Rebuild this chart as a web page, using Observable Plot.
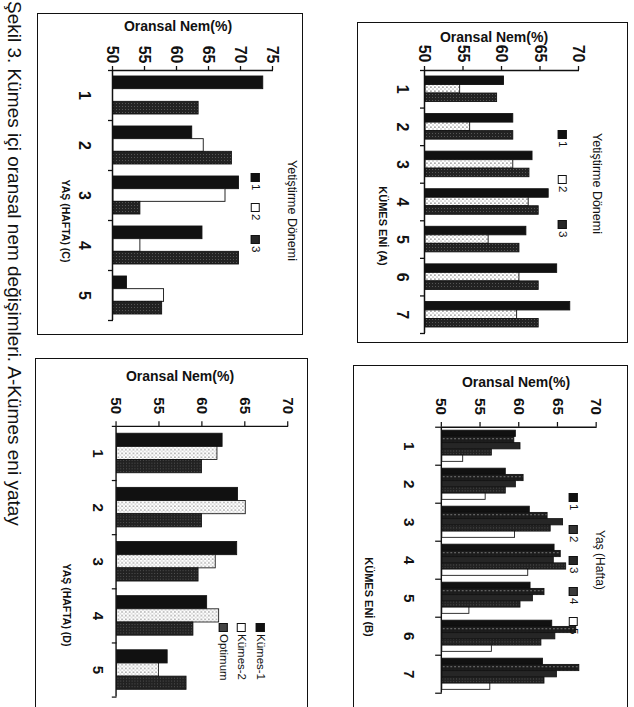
<!DOCTYPE html>
<html lang="tr">
<head>
<meta charset="utf-8">
<script src="https://cdn.jsdelivr.net/npm/d3@7"></script>
<script src="https://cdn.jsdelivr.net/npm/@observablehq/plot@0.6"></script>
<style>
  html, body { margin: 0; padding: 0; width: 634px; height: 707px; overflow: hidden; background: #fff; }
  /* The figure is laid out as a printed page (707 wide, 634 tall) and turned a quarter turn clockwise. */
  #page {
    position: absolute; left: 0; top: 0; width: 707px; height: 634px; overflow: hidden;
    transform-origin: 0 0; transform: translate(634px, 0) rotate(90deg);
    font-family: "Liberation Sans", Arial, Helvetica, sans-serif; color: #111; background: #fff;
  }
  .frame { position: absolute; border: 1.7px solid #111; box-sizing: border-box; }
  .chart { position: absolute; }
  .txt { position: absolute; white-space: nowrap; line-height: 1; }
  .item { position: absolute; white-space: nowrap; line-height: 1; font-size: 11.5px; display: flex; align-items: center; transform: translateY(-50%); }
  .sw { display: inline-block; width: 9px; height: 9px; border: 1.2px solid #111; box-sizing: border-box; margin-right: 2px; }
</style>
</head>
<body>
<svg width="0" height="0" style="position:absolute">
  <defs>
    <pattern id="speck" width="4" height="4" patternUnits="userSpaceOnUse">
      <rect width="4" height="4" fill="#fff"/>
      <rect x="0.5" y="0.5" width="1.3" height="1.1" fill="#555"/>
      <rect x="2.5" y="2.5" width="1.1" height="1" fill="#888"/>
    </pattern>
    <pattern id="darkdots" width="4" height="4" patternUnits="userSpaceOnUse">
      <rect width="4" height="4" fill="#1c1c1c"/>
      <rect x="1" y="1.5" width="1.2" height="1" fill="#bbb"/>
    </pattern>
    <pattern id="weave" width="3" height="3" patternUnits="userSpaceOnUse">
      <rect width="3" height="3" fill="#222"/>
      <rect x="0" y="0" width="1" height="1" fill="#555"/>
    </pattern>
  </defs>
</svg>
<div id="page"></div>
<script>
// ---- Data (relative humidity, %) ----
const nemTicks = [50, 55, 60, 65, 70];
const nemTicksC = [50, 55, 60, 65, 70, 75];

// A: along the house width, three rearing periods
const kumesEniA = [1, 2, 3, 4, 5, 6, 7];
const donemLabels = ["1", "2", "3"];
const nemA1 = [60.2, 61.4, 63.9, 66.0, 63.1, 67.1, 68.8];
const nemA2 = [54.5, 55.8, 61.4, 63.4, 58.2, 62.2, 61.9];
const nemA3 = [59.3, 61.4, 63.5, 64.7, 62.2, 64.7, 64.7];

// B: along the house width, by age (weeks)
const kumesEniB = [1, 2, 3, 4, 5, 6, 7];
const haftaLabels = ["1", "2", "3", "4", "5"];
const nemB1 = [59.5, 58.2, 61.3, 64.5, 61.4, 64.2, 63.0];
const nemB2 = [59.3, 60.5, 63.6, 65.3, 63.2, 67.3, 67.7];
const nemB3 = [60.1, 59.5, 65.6, 64.4, 61.7, 64.6, 64.8];
const nemB4 = [56.4, 58.2, 64.0, 66.0, 60.1, 62.8, 63.2];
const nemB5 = [52.7, 55.6, 59.4, 61.1, 53.5, 56.4, 56.2];

// C: by age (weeks), three rearing periods
const yasC = [1, 2, 3, 4, 5];
const nemC1 = [73.4, 62.3, 69.6, 63.9, 52.1];
const nemC2 = [null, 64.1, 67.5, 54.2, 57.9];
const nemC3 = [63.3, 68.5, 54.2, 69.6, 57.6];

// D: by age (weeks), two houses and the optimum
const yasD = [1, 2, 3, 4, 5];
const kumesLabels = ["Kümes-1", "Kümes-2", "Optimum"];
const nemD1 = [62.3, 64.1, 64.0, 60.5, 55.9];
const nemD2 = [61.7, 65.0, 61.5, 61.9, 54.9];
const nemD3 = [59.9, 59.9, 59.5, 58.9, 58.1];

// ---- Drawing ----
const FONT = '"Liberation Sans", Arial, Helvetica, sans-serif';
const INK = "#111";
const page = document.getElementById("page");

function groupedBars(o) {
  const n = o.series.length;
  const w = o.group / n;
  const lead = (1 - o.group) / 2;
  const base = o.yDomain[0];
  const bounds = d3.range(o.cats.length + 1).map(i => o.cats[0] - 0.5 + i);
  const bars = o.series.map((s, k) => {
    const rows = o.cats.map((c, i) => ({cat: c, value: s.values[i]})).filter(d => d.value != null);
    return Plot.rect(rows, {
      x1: d => d.cat - 0.5 + lead + k * w,
      x2: d => d.cat - 0.5 + lead + (k + 1) * w,
      y1: base,
      y2: "value",
      fill: s.fill,
      stroke: INK,
      strokeWidth: 0.9
    });
  });
  return Plot.plot({
    width: o.width, height: o.height,
    marginLeft: o.margin[0], marginRight: o.margin[1], marginTop: o.margin[2], marginBottom: o.margin[3],
    x: {domain: [bounds[0], bounds[bounds.length - 1]], axis: null},
    y: {domain: o.yDomain, axis: null},
    style: {fontFamily: FONT, fontSize: "16px", fontWeight: "bold", color: INK, background: "transparent", overflow: "visible"},
    marks: [
      ...bars,
      Plot.ruleY([base], {stroke: INK, strokeWidth: 1.5}),
      Plot.ruleX([bounds[0]], {stroke: INK, strokeWidth: 1.5}),
      Plot.axisY(o.yTicks, {tickSize: o.yTick[0], tickPadding: o.yTick[1], strokeWidth: 1.3, label: null, tickFormat: d3.format("d")}),
      Plot.axisX(bounds, {tickSize: o.xTick, strokeWidth: 1.3, tickFormat: () => "", label: null}),
      Plot.axisX(o.cats, {tickSize: 0, tickPadding: o.xLabelPad, label: null, tickFormat: d3.format("d")})
    ]
  });
}

function box(left, top, width, height) {
  const d = document.createElement("div");
  d.className = "frame";
  Object.assign(d.style, {left: left + "px", top: top + "px", width: width + "px", height: height + "px"});
  page.appendChild(d);
}

function place(node, left, top) {
  const d = document.createElement("div");
  d.className = "chart";
  d.style.left = left + "px";
  d.style.top = top + "px";
  d.appendChild(node);
  page.appendChild(d);
}

function text(str, x, y, {size = 11, weight = "bold", rotate = 0, anchor = "middle", spacing = 0} = {}) {
  const d = document.createElement("div");
  d.className = "txt";
  d.textContent = str;
  const tx = anchor === "middle" ? "-50%" : "0";
  Object.assign(d.style, {
    left: x + "px", top: y + "px", fontSize: size + "px", fontWeight: weight,
    letterSpacing: spacing + "px",
    transform: `translate(${tx}, -50%) rotate(${rotate}deg)`
  });
  page.appendChild(d);
}

function legendItem(label, fill, x, y) {
  const d = document.createElement("div");
  d.className = "item";
  Object.assign(d.style, {left: x + "px", top: y + "px"});
  const s = document.createElement("span");
  s.className = "sw";
  s.style.background = fill;
  const t = document.createElement("span");
  t.textContent = label;
  d.appendChild(s);
  d.appendChild(t);
  page.appendChild(d);
}

const black = "#111", dark = "#262626", white = "#fff";

// ---- Chart A ----
box(22, 6, 321, 271);
place(groupedBars({
  cats: kumesEniA, group: 0.68, yDomain: [50, 70], yTicks: nemTicks,
  width: 321, height: 271, margin: [48, 10, 49, 68],
  yTick: [4, 4], xTick: 5, xLabelPad: 16,
  series: [
    {values: nemA1, fill: black},
    {values: nemA2, fill: "url(#speck)"},
    {values: nemA3, fill: "url(#weave)"}
  ]
}), 22, 6);
text("Oransal Nem(%)", 37, 140, {size: 14, rotate: -90});
text("KÜMES ENİ (A)", 226, 252, {size: 11});
text("Yetiştirme Dönemi", 133, 37, {size: 12.5, weight: "normal", anchor: "start"});
[black, white, dark].forEach((f, i) => legendItem(donemLabels[i], f, [130, 175, 220][i], 72));

// ---- Chart B ----
box(365, 6, 380, 275);
place(groupedBars({
  cats: kumesEniB, group: 0.82, yDomain: [50, 70], yTicks: nemTicks,
  width: 360, height: 275, margin: [65, 15, 33, 79],
  yTick: [5, 8], xTick: 7, xLabelPad: 28,
  series: [
    {values: nemB1, fill: black},
    {values: nemB2, fill: "url(#darkdots)"},
    {values: nemB3, fill: dark},
    {values: nemB4, fill: "url(#weave)"},
    {values: nemB5, fill: white}
  ]
}), 365, 6);
text("Oransal Nem(%)", 382, 118, {size: 14, rotate: -90});
text("KÜMES ENİ (B)", 597, 266, {size: 11});
text("Yaş (Hafta)", 530, 34, {size: 12, weight: "normal", anchor: "start"});
[black, "#333", dark, "#3a3a3a", white].forEach((f, i) => legendItem(haftaLabels[i], f, [493, 525, 556, 587, 617][i], 61));

// ---- Chart C ----
box(13, 331, 322, 266);
place(groupedBars({
  cats: yasC, group: 0.76, yDomain: [50, 75], yTicks: nemTicksC,
  width: 322, height: 266, margin: [57, 15, 30, 76],
  yTick: [4, 3], xTick: 5, xLabelPad: 22,
  series: [
    {values: nemC1, fill: black},
    {values: nemC2, fill: white},
    {values: nemC3, fill: "url(#weave)"}
  ]
}), 13, 331);
text("Oransal Nem(%)", 26, 456, {size: 14, rotate: -90});
text("YAŞ (HAFTA) (C)", 221, 568, {size: 10.5});
text("Yetiştirme Dönemi", 160, 342, {size: 12.5, weight: "normal", anchor: "start"});
[black, white, dark].forEach((f, i) => legendItem(donemLabels[i], f, [173, 203, 235][i], 379));

// ---- Chart D ----
box(358, 326, 380, 273);
place(groupedBars({
  cats: yasD, group: 0.73, yDomain: [50, 70], yTicks: nemTicks,
  width: 370, height: 273, margin: [72, 11, 21, 70],
  yTick: [5, 8], xTick: 5, xLabelPad: 13,
  series: [
    {values: nemD1, fill: black},
    {values: nemD2, fill: "url(#speck)"},
    {values: nemD3, fill: "url(#weave)"}
  ]
}), 358, 326);
text("Oransal Nem(%)", 376, 454, {size: 14, rotate: -90});
text("YAŞ (HAFTA) (D)", 605, 567, {size: 10.5});
[black, white, "#444"].forEach((f, i) => legendItem(kumesLabels[i], f, 623, [374, 393, 411][i]));

// ---- Caption ----
text("Şekil 3. Kümes içi oransal nem değişimleri. A-Kümes eni yatay", 1, 620, {size: 19, weight: "normal", anchor: "start"});
</script>
</body>
</html>
